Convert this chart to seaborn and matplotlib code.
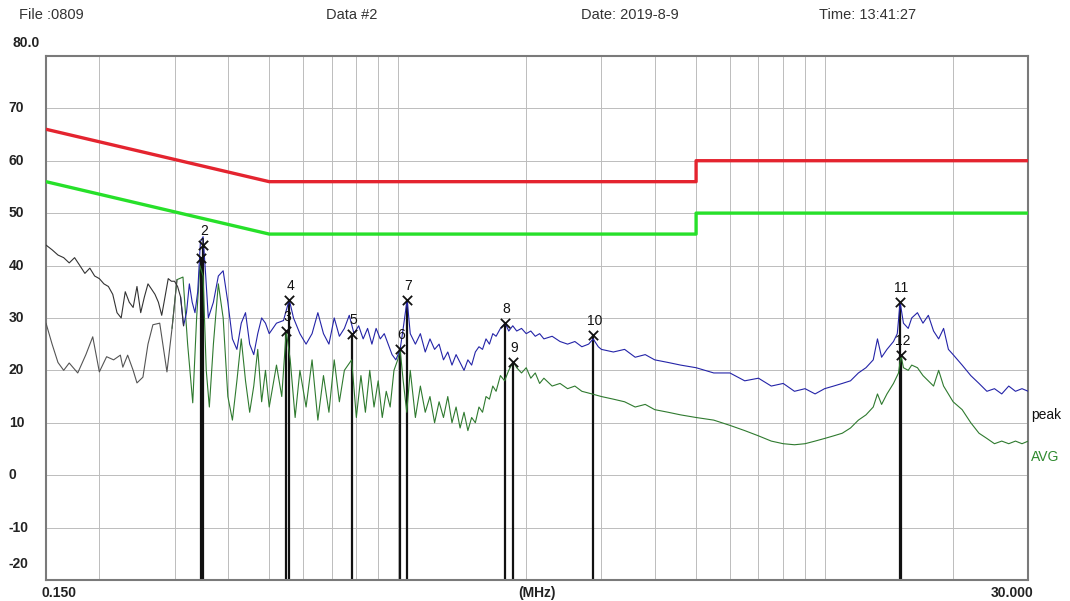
import matplotlib
matplotlib.use("Agg")
import matplotlib.pyplot as plt
import pandas as pd
import seaborn as sns

sns.set_theme(style="white")
plt.rcParams["font.family"] = ["Liberation Sans", "DejaVu Sans"]

# limit lines (MHz, dBuV)
LIMIT_FREQ = [0.15, 0.5, 5.0, 5.0, 30.0]
QP_LIMIT = [66, 56, 56, 60, 60]
AV_LIMIT = [56, 46, 46, 50, 50]

# peak trace
PEAK_FREQ = [
    0.150, 0.155, 0.160, 0.165, 0.170, 0.175, 0.180, 0.185, 0.190, 0.195,
    0.200, 0.205, 0.210, 0.215, 0.220, 0.225, 0.230, 0.235, 0.240, 0.245,
    0.250, 0.255, 0.260, 0.265, 0.270, 0.275, 0.280, 0.285, 0.290, 0.295,
    0.300, 0.305, 0.310, 0.315, 0.320, 0.325, 0.330, 0.335, 0.340, 0.345,
    0.350, 0.355, 0.360, 0.370, 0.380, 0.390, 0.400, 0.410, 0.420, 0.430,
    0.440, 0.450, 0.460, 0.470, 0.480, 0.490, 0.500, 0.520, 0.540, 0.557,
    0.570, 0.590, 0.610, 0.630, 0.650, 0.670, 0.690, 0.710, 0.730, 0.750,
    0.770, 0.790, 0.810, 0.830, 0.850, 0.870, 0.890, 0.910, 0.930, 0.950,
    0.970, 0.990, 1.013, 1.030, 1.052, 1.070, 1.100, 1.130, 1.160, 1.190,
    1.220, 1.250, 1.280, 1.310, 1.340, 1.370, 1.400, 1.430, 1.460, 1.490,
    1.520, 1.550, 1.580, 1.610, 1.640, 1.670, 1.700, 1.740, 1.785, 1.820,
    1.860, 1.900, 1.950, 2.000, 2.050, 2.100, 2.150, 2.200, 2.300, 2.400,
    2.500, 2.600, 2.700, 2.800, 2.870, 2.950, 3.000, 3.200, 3.400, 3.600,
    3.800, 4.000, 4.300, 4.600, 5.000, 5.500, 6.000, 6.500, 7.000, 7.500,
    8.000, 8.500, 9.000, 9.500, 10.00, 10.50, 11.00, 11.50, 12.00, 12.50,
    13.00, 13.30, 13.60, 14.00, 14.50, 14.80, 15.03, 15.30, 15.70, 16.00,
    16.50, 17.00, 17.50, 18.00, 18.50, 19.00, 19.50, 20.00, 21.00, 22.00,
    23.00, 24.00, 25.00, 26.00, 27.00, 28.00, 29.00, 30.00,
]
PEAK_DB = [
    43.9, 43.0, 42.0, 41.5, 40.5, 41.5, 40.0, 38.5, 39.5, 38.0,
    37.5, 36.5, 36.0, 34.5, 31.0, 30.0, 35.0, 33.0, 32.0, 36.0,
    31.0, 34.0, 36.5, 35.5, 34.5, 33.0, 30.5, 34.0, 37.5, 37.0,
    37.0, 36.0, 34.0, 28.5, 31.0, 36.5, 33.0, 31.0, 35.0, 44.5,
    45.5, 38.0, 30.0, 33.0, 38.0, 39.0, 33.0, 26.0, 24.0, 29.0,
    31.0, 25.0, 23.0, 27.0, 30.0, 29.0, 27.0, 29.0, 29.5, 33.5,
    30.0, 27.0, 25.0, 27.0, 31.0, 27.0, 25.0, 30.0, 26.5, 28.0,
    30.5, 27.0, 28.5, 26.0, 28.0, 25.0, 28.0, 26.0, 27.0, 25.0,
    23.0, 22.0, 24.0, 28.0, 33.5, 27.0, 25.0, 27.0, 23.5, 26.0,
    24.0, 25.0, 22.0, 23.5, 21.0, 23.0, 21.5, 20.0, 22.0, 21.0,
    23.5, 24.5, 24.0, 26.0, 25.0, 27.0, 26.5, 28.0, 29.0, 27.5,
    28.5, 27.5, 28.0, 27.0, 27.5, 26.5, 27.0, 26.0, 26.5, 25.5,
    25.0, 25.5, 24.5, 25.0, 26.0, 24.5, 24.0, 23.5, 24.0, 22.5,
    23.0, 22.0, 21.5, 21.0, 20.5, 19.5, 19.5, 18.0, 18.5, 17.0,
    17.5, 16.0, 16.5, 15.5, 16.5, 17.0, 17.5, 18.0, 19.5, 20.5,
    22.0, 26.0, 22.5, 24.0, 25.5, 27.0, 33.0, 29.0, 28.0, 30.0,
    31.0, 29.0, 30.5, 27.5, 26.0, 28.0, 24.0, 23.0, 21.0, 19.0,
    17.5, 16.0, 16.5, 15.5, 17.0, 16.0, 16.5, 16.0,
]

# average trace
AVG_FREQ = [
    0.150, 0.155, 0.160, 0.165, 0.170, 0.178, 0.186, 0.193, 0.200, 0.208,
    0.216, 0.224, 0.227, 0.233, 0.240, 0.245, 0.253, 0.260, 0.267, 0.277,
    0.288, 0.296, 0.304, 0.314, 0.322, 0.331, 0.338, 0.344, 0.350, 0.356,
    0.362, 0.370, 0.380, 0.390, 0.400, 0.410, 0.420, 0.430, 0.440, 0.450,
    0.460, 0.470, 0.480, 0.490, 0.500, 0.520, 0.535, 0.548, 0.560, 0.575,
    0.590, 0.610, 0.630, 0.650, 0.670, 0.690, 0.710, 0.730, 0.750, 0.780,
    0.800, 0.820, 0.840, 0.860, 0.880, 0.900, 0.920, 0.940, 0.960, 0.980,
    1.000, 1.013, 1.030, 1.050, 1.070, 1.100, 1.130, 1.160, 1.190, 1.220,
    1.250, 1.280, 1.310, 1.340, 1.370, 1.400, 1.430, 1.460, 1.490, 1.520,
    1.550, 1.580, 1.610, 1.640, 1.670, 1.700, 1.740, 1.780, 1.820, 1.865,
    1.900, 1.950, 2.000, 2.050, 2.100, 2.150, 2.200, 2.300, 2.400, 2.500,
    2.600, 2.700, 2.850, 3.000, 3.200, 3.400, 3.600, 3.800, 4.000, 4.300,
    4.600, 5.000, 5.500, 6.000, 6.500, 7.000, 7.500, 8.000, 8.500, 9.000,
    9.500, 10.00, 10.50, 11.00, 11.50, 12.00, 12.50, 13.00, 13.30, 13.60,
    14.00, 14.50, 14.90, 15.10, 15.30, 15.70, 16.00, 16.50, 17.00, 17.50,
    18.00, 18.50, 19.00, 19.50, 20.00, 21.00, 22.00, 23.00, 24.00, 25.00,
    26.00, 27.00, 28.00, 29.00, 30.00,
]
AVG_DB = [
    29.0, 25.0, 21.5, 20.0, 21.4, 19.5, 23.0, 26.4, 19.7, 22.6,
    22.0, 22.9, 20.6, 22.9, 20.0, 17.6, 18.7, 25.0, 28.7, 29.0,
    19.7, 28.0, 37.3, 37.8, 25.0, 13.8, 30.0, 40.0, 38.0, 20.0,
    13.0, 25.0, 36.5, 30.0, 15.0, 10.5, 18.0, 26.0, 18.0, 12.0,
    17.0, 24.0, 14.0, 20.0, 13.0, 21.0, 15.0, 27.5, 22.0, 11.0,
    20.0, 13.0, 22.0, 10.5, 19.0, 12.0, 22.0, 14.0, 20.0, 22.0,
    11.0, 19.0, 12.0, 20.0, 13.0, 18.0, 11.0, 16.0, 13.0, 20.0,
    22.0, 24.0, 18.0, 12.0, 20.0, 11.0, 17.0, 12.0, 15.0, 10.0,
    14.0, 11.0, 15.0, 10.0, 13.0, 9.0, 12.0, 8.5, 11.0, 10.0,
    13.0, 12.0, 15.0, 14.5, 17.0, 16.0, 19.0, 18.0, 20.0, 21.6,
    20.5, 19.5, 20.5, 18.5, 19.5, 17.5, 18.5, 17.0, 17.5, 16.5,
    17.0, 16.0, 15.5, 15.0, 14.5, 14.0, 13.0, 13.5, 12.5, 12.0,
    11.5, 11.0, 10.5, 9.5, 8.5, 7.5, 6.5, 6.0, 5.8, 6.0,
    6.5, 7.0, 7.5, 8.0, 9.0, 10.5, 11.5, 13.0, 15.5, 13.5,
    15.5, 17.5, 19.5, 22.9, 20.5, 20.0, 21.0, 20.5, 19.0, 18.0,
    17.0, 20.0, 17.0, 15.5, 14.0, 12.5, 10.0, 8.0, 7.0, 6.0,
    6.5, 6.0, 6.5, 6.0, 6.5,
]

# marker table
MARK_NO = ["1", "2", "3", "4", "5", "6", "7", "8", "9", "10", "11", "12"]
MARK_FREQ = [0.346, 0.350, 0.548, 0.557, 0.782, 1.013, 1.052, 1.785, 1.865, 2.870, 15.03, 15.10]
MARK_DB = [41.5, 44.0, 27.5, 33.5, 27.0, 24.0, 33.5, 29.0, 21.6, 26.8, 33.0, 22.9]

Y_TICKS = [70, 60, 50, 40, 30, 20, 10, 0, -10]

limits = pd.DataFrame({"freq": LIMIT_FREQ, "qp": QP_LIMIT, "av": AV_LIMIT})
peak = pd.DataFrame({"freq": PEAK_FREQ, "level": PEAK_DB})
avg = pd.DataFrame({"freq": AVG_FREQ, "level": AVG_DB})
marks = pd.DataFrame({"no": MARK_NO, "freq": MARK_FREQ, "level": MARK_DB})

fig = plt.figure(figsize=(10.7, 6.01), dpi=100)
ax = fig.add_axes([0.043, 0.035, 0.918, 0.872])
ax.set_xscale("log")
ax.set_xlim(0.15, 30)
ax.set_ylim(-20, 80)

# grid
grid_x = [0.2, 0.3, 0.4, 0.5, 0.6, 0.7, 0.8, 0.9, 1, 2, 3, 4, 5, 6, 7, 8, 9, 10, 20]
for gx in grid_x:
    ax.axvline(gx, color="#bcbcbc", lw=0.7, zorder=0)
for gy in Y_TICKS:
    ax.axhline(gy, color="#bcbcbc", lw=0.7, zorder=0)

# marker stems
ax.vlines(marks["freq"], -20, marks["level"], color="#111111", lw=1.6, zorder=2)

sns.lineplot(data=limits, x="freq", y="qp", ax=ax, color="#e4242f", lw=2.4,
             sort=False, estimator=None, zorder=3)
sns.lineplot(data=limits, x="freq", y="av", ax=ax, color="#27e02a", lw=2.4,
             sort=False, estimator=None, zorder=3)

avg_left = avg[avg["freq"] <= 0.305]
avg_main = avg[avg["freq"] >= 0.296]
sns.lineplot(data=avg_main, x="freq", y="level", ax=ax, color="#2f7a2f", lw=0.8,
             sort=False, estimator=None, zorder=4)
sns.lineplot(data=avg_left, x="freq", y="level", ax=ax, color="#555555", lw=0.8,
             sort=False, estimator=None, zorder=4)

peak_left = peak[peak["freq"] <= 0.315]
peak_main = peak[peak["freq"] >= 0.310]
sns.lineplot(data=peak_main, x="freq", y="level", ax=ax, color="#2424a8", lw=0.8,
             sort=False, estimator=None, zorder=5)
sns.lineplot(data=peak_left, x="freq", y="level", ax=ax, color="#333333", lw=0.8,
             sort=False, estimator=None, zorder=5)

sns.scatterplot(data=marks, x="freq", y="level", ax=ax, marker="x", s=45, color="#111111",
                linewidth=1.3, zorder=6)
for _, row in marks.iterrows():
    ax.annotate(row["no"], (row["freq"], row["level"]), xytext=(1, 5), textcoords="offset points",
                ha="center", va="bottom", fontsize=10, color="#111111", zorder=7)

ax.set_xlabel("")
ax.set_ylabel("")
ax.set_xticks([])
ax.set_yticks([])
ax.minorticks_off()
for side in ax.spines.values():
    side.set_color("#7a7a7a")
    side.set_linewidth(1.5)

# y labels, left aligned as in the instrument printout
for t in Y_TICKS:
    ax.text(-0.038, t, str(t), transform=ax.get_yaxis_transform(), fontsize=10,
            fontweight="bold", ha="left", va="center", color="#222222")
ax.text(-0.034, 1.012, "80.0", transform=ax.transAxes, fontsize=10, fontweight="bold",
        ha="left", va="bottom", color="#222222")
ax.text(-0.038, 0.03, "-20", transform=ax.transAxes, fontsize=10, fontweight="bold",
        ha="left", va="center", color="#222222")
ax.text(-0.005, -0.012, "0.150", transform=ax.transAxes, fontsize=10, fontweight="bold",
        ha="left", va="top", color="#222222")
ax.text(0.5, -0.012, "(MHz)", transform=ax.transAxes, fontsize=10, fontweight="bold",
        ha="center", va="top", color="#222222")
ax.text(1.005, -0.012, "30.000", transform=ax.transAxes, fontsize=10, fontweight="bold",
        ha="right", va="top", color="#222222")
ax.text(1.003, 0.315, "peak", transform=ax.transAxes, fontsize=10, ha="left", va="center",
        color="#111111")
ax.text(1.003, 0.235, "AVG", transform=ax.transAxes, fontsize=10, ha="left", va="center",
        color="#2f8a2f")

# header
fig.text(0.018, 0.975, "File :0809", fontsize=10.5, ha="left", va="center", color="#333333")
fig.text(0.305, 0.975, "Data #2", fontsize=10.5, ha="left", va="center", color="#333333")
fig.text(0.543, 0.975, "Date: 2019-8-9", fontsize=10.5, ha="left", va="center", color="#333333")
fig.text(0.765, 0.975, "Time: 13:41:27", fontsize=10.5, ha="left", va="center", color="#333333")

fig.savefig("out.png", dpi=100)
